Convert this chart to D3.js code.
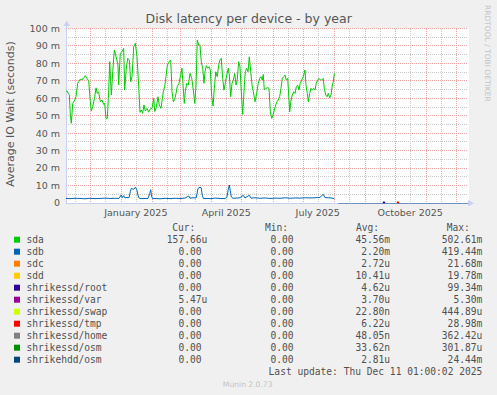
<!DOCTYPE html>
<meta charset="utf-8">
<style>
body { margin: 0; background: #f0f0f0; }
svg { display: block; font-family: "DejaVu Sans", sans-serif; }
.grid line { fill: none; stroke-dasharray: 1,1; shape-rendering: crispEdges; }
.grid .major { stroke: #eca8a8; }
.grid .minor { stroke: #c8c8c8; }
.tick-label { font-size: 9.5px; fill: #555; }
.legend text { font-family: "DejaVu Sans Mono", monospace; font-size: 9.6px; fill: #505050; }
</style>
<svg width="497" height="395"></svg>
<script src="https://cdn.jsdelivr.net/npm/d3@7"></script>
<script>

// time window of the graph (400 days, munin "by year")
var seriesStart = new Date(2024, 10, 7, 12),
    seriesEnd = new Date(2025, 11, 12, 12);

// days since seriesStart / values in seconds (x1000 = ms)
var sdaDays = [0, 1.0, 2.7, 3.3, 4.3, 5.3, 6.7, 8.7, 10.0, 11.6, 12.6, 14.2, 15.9, 17.6, 19.2, 20.9, 22.6, 24.2, 25.2, 26.6, 28.6,
  29.9, 31.1, 32.5, 34.1, 35.8, 37.5, 38.5, 39.8, 41.1, 42.5, 43.5, 45.1, 46.5, 48.1, 49.8, 51.7, 52.4, 54.0, 55.7, 57.4,
  58.4, 60.0, 61.4, 63.0, 64.4, 65.7, 67.4, 69.0, 70.6, 72.3, 73.6, 74.9, 76.3, 77.6, 78.9, 80.6, 82.3, 83.9, 85.6, 87.3,
  88.3, 89.8, 91.5, 92.8, 94.5, 96.8, 98.2, 99.5, 100.8, 102.8, 104.2, 105.5, 106.8, 108.2, 109.5, 110.7, 112.4, 114.1,
  115.4, 116.7, 117.7, 118.7, 120.1, 121.7, 123.4, 125.1, 126.7, 128.1, 129.4, 130.6, 132.0, 133.3, 134.6, 136.0, 137.3,
  138.3, 139.6, 141.0, 142.3, 143.6, 145.0, 146.3, 147.6, 149.0, 150.5, 151.9, 153.2, 154.5, 155.9, 157.2, 158.5, 159.9,
  161.5, 162.5, 163.9, 165.2, 166.5, 167.9, 169.2, 170.4, 171.8, 173.1, 174.4, 175.8, 177.1, 178.4, 179.8, 181.1, 182.4,
  183.8, 185.1, 186.4, 188.1, 189.7, 191.3, 192.7, 194.0, 195.3, 196.3, 197.3, 198.7, 200.7, 202.0, 203.3, 204.7, 206.0,
  207.3, 208.7, 209.9, 211.2, 212.6, 213.9, 215.2, 216.6, 217.9, 219.2, 220.6, 221.9, 222.6, 223.9, 225.2, 226.6, 227.9,
  229.2, 230.6, 231.8, 233.1, 234.5, 236.1, 237.8, 238.8, 240.1, 241.1, 242.5, 243.8, 245.1, 246.5, 247.8, 249.0, 250.4,
  251.7, 253.0, 254.4, 256.0, 257.0, 258.4, 259.7, 261.0, 262.4, 263.7, 265.0, 266.0, 267.0];
var sdaValues = [64.0, 64.2, 62.3, 62.0, 50.4, 45.7, 57.1, 59.0, 61.0, 68.6, 69.5, 71.0, 70.5, 71.8, 73.0, 71.4, 69.9, 58.0, 52.7, 55.2, 60.9,
  66.0, 62.8, 63.8, 58.0, 59.0, 56.5, 57.0, 48.5, 48.5, 64.7, 81.0, 61.9, 75.2, 87.7, 84.0, 79.0, 67.6, 85.8, 86.7, 88.6,
  64.8, 77.2, 82.9, 82.0, 69.5, 72.4, 89.6, 91.5, 84.0, 67.6, 52.0, 53.3, 51.4, 56.2, 52.7, 54.2, 52.0, 53.9, 54.2, 60.0,
  52.4, 54.6, 60.9, 56.2, 54.2, 63.8, 66.7, 72.4, 79.0, 81.0, 82.0, 63.8, 58.0, 59.5, 62.8, 66.7, 68.6, 73.3,
  77.2, 65.7, 57.1, 63.8, 68.6, 67.6, 74.3, 71.4, 64.7, 57.1, 67.6, 93.4, 90.5, 90.5, 81.0, 77.2, 68.6,
  75.2, 78.7, 77.2, 78.1, 76.2, 60.9, 55.6, 65.7, 75.2, 72.4, 79.0, 82.0, 82.9, 71.4, 64.7, 68.6, 73.3,
  77.2, 73.3, 60.9, 68.6, 70.5, 74.3, 67.6, 70.5, 81.0, 78.1, 63.8, 50.8, 63.8, 75.2, 77.2, 75.2, 83.8,
  75.2, 67.6, 63.8, 58.0, 62.8, 68.6, 71.4, 72.4, 70.5, 73.7, 64.8, 65.7, 66.1, 65.7, 52.3, 48.5, 50.4,
  53.3, 56.2, 58.0, 59.0, 60.9, 65.7, 71.4, 72.4, 73.3, 70.5, 71.4, 59.0, 52.3, 59.0, 61.9, 63.8, 62.8,
  66.7, 67.6, 64.7, 68.6, 70.5, 72.4, 76.2, 67.6, 62.8, 58.0, 62.8, 65.7, 64.7, 65.7, 64.7, 68.6, 70.5,
  71.4, 70.5, 70.5, 71.4, 65.7, 61.9, 60.9, 62.8, 60.3, 61.9, 67.6, 69.5, 74.3];

var sdbDays = [0, 4.0, 9.0, 13.9, 18.9, 23.9, 28.9, 33.8, 38.8, 43.8, 48.8, 52.7, 55.0, 56.0, 57.4, 58.7, 60.7, 62.7, 64.0,
  65.0, 67.4, 69.0, 70.6, 71.6, 72.9, 75.6, 78.6, 81.6, 83.3, 84.3, 85.1, 86.1, 89.6, 93.5, 98.5, 103.5, 108.5, 113.4,
  118.4, 122.1, 123.4, 126.4, 129.4, 130.3, 131.3, 133.3, 134.6, 135.6, 136.6, 140.3, 144.3, 148.3, 153.2, 158.2, 160.2,
  161.5, 162.5, 163.5, 164.5, 166.2, 169.2, 173.1, 176.4, 178.1, 182.4, 184.1, 188.1, 193.0, 198.0, 203.0, 208.0, 213.0,
  218.1, 223.1, 228.1, 233.0, 238.0, 242.8, 247.8, 252.7, 256.0, 257.7, 260.7, 263.7, 267.0];
var sdbValues = [2.6, 2.5, 2.7, 2.6, 2.4, 2.7, 2.5, 2.6, 2.8, 2.6, 2.7, 2.6, 4.6, 3.0, 4.2, 2.9, 3.2, 3.0, 6.5,
  8.4, 7.8, 9.0, 7.4, 4.5, 2.7, 2.5, 2.6, 2.6, 5.5, 7.6, 4.0, 2.5, 2.6, 2.4, 2.7, 2.5, 2.7, 2.6,
  2.8, 4.0, 2.8, 3.0, 2.9, 5.0, 8.3, 9.0, 8.6, 4.5, 2.6, 2.6, 2.5, 2.8, 2.6, 2.5, 3.5,
  8.0, 10.3, 7.0, 3.5, 2.7, 2.8, 3.0, 4.4, 2.9, 4.4, 2.8, 3.0, 2.7, 2.9, 2.6, 2.8, 2.7,
  3.0, 2.7, 2.9, 2.8, 3.0, 2.9, 3.0, 3.2, 5.0, 3.1, 3.0, 2.9, 2.5];

// the small devices only show up near zero at the end of the year
var rootDays = [315.5, 316.4, 317.3], rootValues = [0, 0.6, 0];
var tmpDays = [329.4, 330.3, 331.2], tmpValues = [0, 0.6, 0];
var zeroDays = [271, 400], zeroValues = [0, 0];

var legendNames = ["sda", "sdb", "sdc", "sdd", "shrikessd/root", "shrikessd/var", "shrikessd/swap",
  "shrikessd/tmp", "shrikessd/home", "shrikessd/osm", "shrikehdd/osm"];
var legendColors = ["#00cc00", "#0066b3", "#ff8000", "#ffcc00", "#330099", "#990099", "#ccff00",
  "#ff0000", "#808080", "#008f00", "#00487d"];
var curVals = ["157.66u", "0.00", "0.00", "0.00", "0.00", "5.47u", "0.00", "0.00", "0.00", "0.00", "0.00"];
var minVals = ["0.00", "0.00", "0.00", "0.00", "0.00", "0.00", "0.00", "0.00", "0.00", "0.00", "0.00"];
var avgVals = ["45.56m", "2.20m", "2.72u", "10.41u", "4.62u", "3.70u", "22.80n", "6.22u", "48.05n", "33.62n", "2.81u"];
var maxVals = ["502.61m", "419.44m", "21.68m", "19.78m", "99.34m", "5.30m", "444.89u", "28.98m", "362.42u", "301.87u", "24.44m"];

var yTicks = [0, 0.01, 0.02, 0.03, 0.04, 0.05, 0.06, 0.07, 0.08, 0.09, 0.1];
var xLabels = [new Date(2025, 0, 16), new Date(2025, 3, 16), new Date(2025, 6, 16), new Date(2025, 9, 16)];

var svg = d3.select("svg"),
    plotLeft = 66, plotRight = 468, plotTop = 28.5, plotBottom = 203;

var x = d3.scaleTime().domain([seriesStart, seriesEnd]).range([plotLeft, plotRight]),
    y = d3.scaleLinear().domain([0, 0.1]).range([plotBottom, plotTop]);

function toPoints(days, values) {
  return days.map(function(d, i) {
    return {date: new Date(seriesStart.getTime() + d * 864e5), value: values[i] / 1000};
  });
}

// canvas
svg.append("rect").attr("x", plotLeft).attr("y", plotTop).attr("width", plotRight - plotLeft + 1)
    .attr("height", plotBottom - plotTop).attr("fill", "#fff");

// grid
var grid = svg.append("g").attr("class", "grid");
var minorY = d3.range(0, 0.1001, 0.005);
grid.selectAll(".hminor").data(minorY.filter(function(d, i) { return i % 2; }))
  .enter().append("line").attr("class", "minor")
    .attr("x1", plotLeft).attr("x2", plotRight)
    .attr("y1", function(d) { return Math.floor(y(d)) + 0.5; })
    .attr("y2", function(d) { return Math.floor(y(d)) + 0.5; });

var months = d3.timeMonth.range(seriesStart, seriesEnd),
    midMonths = d3.timeMonth.range(d3.timeMonth.floor(seriesStart), seriesEnd)
      .map(function(d) { return new Date(d.getFullYear(), d.getMonth(), 16); })
      .filter(function(d) { return d > seriesStart && d < seriesEnd; });

grid.selectAll(".vminor").data(midMonths)
  .enter().append("line").attr("class", "minor")
    .attr("x1", function(d) { return Math.round(x(d)) + 0.5; })
    .attr("x2", function(d) { return Math.round(x(d)) + 0.5; })
    .attr("y1", plotTop).attr("y2", plotBottom);

grid.selectAll(".vmajor").data(months)
  .enter().append("line").attr("class", "major")
    .attr("x1", function(d) { return Math.round(x(d)) + 0.5; })
    .attr("x2", function(d) { return Math.round(x(d)) + 0.5; })
    .attr("y1", plotTop).attr("y2", plotBottom);

grid.selectAll(".hmajor").data(yTicks.slice(1))
  .enter().append("line").attr("class", "major")
    .attr("x1", plotLeft).attr("x2", plotRight)
    .attr("y1", function(d) { return Math.floor(y(d)) + 0.5; })
    .attr("y2", function(d) { return Math.floor(y(d)) + 0.5; });

// axes
var axisColor = "#c9d0f2";
svg.append("line").attr("x1", plotLeft + 0.5).attr("x2", plotLeft + 0.5).attr("y1", plotBottom).attr("y2", 24)
    .attr("stroke", axisColor);
svg.append("line").attr("x1", plotLeft).attr("x2", plotRight + 1).attr("y1", plotBottom + 0.5).attr("y2", plotBottom + 0.5)
    .attr("stroke", axisColor);
svg.append("path").attr("d", "M63.5,26L70,26L66.7,20.5Z").attr("fill", axisColor);
svg.append("path").attr("d", "M468,200L468,206.5L474,203.3Z").attr("fill", axisColor);

svg.selectAll(".ytick").data(yTicks)
  .enter().append("text").attr("class", "tick-label")
    .attr("x", 60).attr("y", function(d) { return y(d); }).attr("dy", "0.35em")
    .attr("text-anchor", "end")
    .text(function(d) { return d === 0 ? "0" : Math.round(d * 1000) + " m"; });

svg.selectAll(".xtick").data(xLabels)
  .enter().append("text").attr("class", "tick-label")
    .attr("x", function(d) { return x(d); }).attr("y", 215.5)
    .attr("text-anchor", "middle")
    .text(d3.timeFormat("%B %Y"));

// series
var line = d3.line()
    .x(function(d) { return x(d.date); })
    .y(function(d) { return y(d.value); });

var lines = svg.append("g").attr("fill", "none").attr("stroke-width", 1).attr("stroke-linejoin", "round");
lines.append("path").datum(toPoints(sdaDays, sdaValues)).attr("d", line).attr("stroke", legendColors[0]);
lines.append("path").datum(toPoints(sdbDays, sdbValues)).attr("d", line).attr("stroke", legendColors[1]);
lines.append("path").datum(toPoints(rootDays, rootValues)).attr("d", line).attr("stroke", legendColors[4]).attr("stroke-width", 1.5);
lines.append("path").datum(toPoints(tmpDays, tmpValues)).attr("d", line).attr("stroke", legendColors[7]).attr("stroke-width", 1.5);
lines.append("path").datum(toPoints(zeroDays, zeroValues)).attr("d", line).attr("stroke", legendColors[10])
    .attr("stroke-opacity", 0.45).attr("transform", "translate(0,0.5)");

// titles
svg.append("text").attr("x", 248.7).attr("y", 23).attr("text-anchor", "middle")
    .attr("font-size", "12.5px").attr("fill", "#555").text("Disk latency per device - by year");
svg.append("text").attr("transform", "translate(13.5,114)rotate(-90)").attr("text-anchor", "middle")
    .attr("font-size", "11px").attr("fill", "#555").text("Average IO Wait (seconds)");
svg.append("text").attr("transform", "translate(485,5)rotate(90)")
    .attr("font-size", "7.5px").attr("fill", "#c4c4c4").text("RRDTOOL / TOBI OETIKER");
svg.append("text").attr("x", 247.7).attr("y", 387).attr("text-anchor", "middle")
    .attr("font-size", "7.6px").attr("fill", "#c4c4c4").text("Munin 2.0.73");

// legend
var legend = svg.append("g").attr("class", "legend");
var rowY = function(i) { return 243 + i * 12; };
var headers = [["Cur:", 172.3], ["Min:", 265], ["Avg:", 356], ["Max:", 446.7]];
legend.selectAll(".hdr").data(headers)
  .enter().append("text").attr("x", function(d) { return d[1]; }).attr("y", 231).text(function(d) { return d[0]; });

var rows = legend.selectAll(".row").data(legendNames)
  .enter().append("g");
rows.append("rect")
    .attr("x", 14).attr("y", function(d, i) { return rowY(i) - 6.3; })
    .attr("width", 6).attr("height", 6)
    .attr("fill", function(d, i) { return legendColors[i]; });
rows.append("text").attr("x", 26.5).attr("y", function(d, i) { return rowY(i); }).text(function(d) { return d; });

var columns = [[curVals, 201.5], [minVals, 293.5], [avgVals, 384.3], [maxVals, 476.5]];
columns.forEach(function(col) {
  col[0].forEach(function(v, i) {
    var m = v.match(/^([\d.]+)([munk]?)$/);
    legend.append("text").attr("x", col[1]).attr("y", rowY(i)).attr("text-anchor", "end").text(m[1]);
    if (m[2]) legend.append("text").attr("x", col[1]).attr("y", rowY(i)).text(m[2]);
  });
});

legend.append("text").attr("x", 482.3).attr("y", 375).attr("text-anchor", "end")
    .text("Last update: Thu Dec 11 01:00:02 2025");

</script>
